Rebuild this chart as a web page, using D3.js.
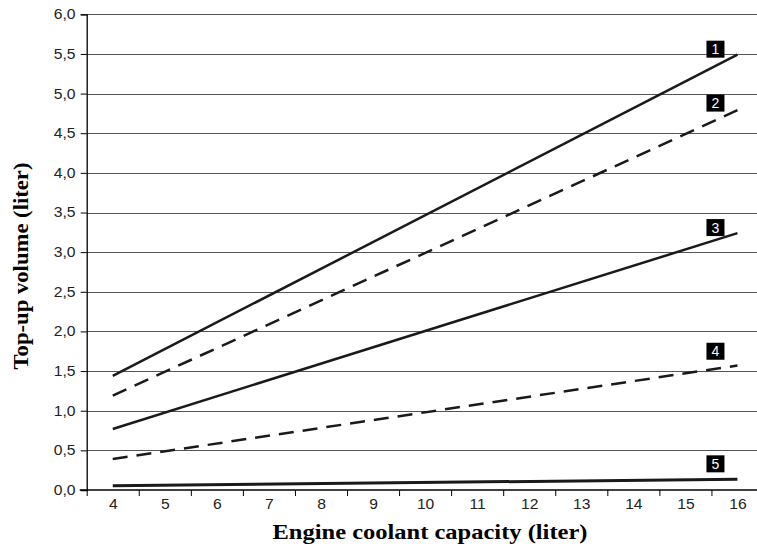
<!DOCTYPE html>
<html>
<head>
<meta charset="utf-8">
<script src="https://cdn.jsdelivr.net/npm/d3@7"></script>
<style>
  html, body { margin: 0; padding: 0; background: #fff; }
  svg { display: block; }
</style>
</head>
<body>
<div id="chart"></div>
<script>
// Engine coolant capacity vs top-up volume
const capacities = [4, 5, 6, 7, 8, 9, 10, 11, 12, 13, 14, 15, 16];
const yTicks = [0, 0.5, 1, 1.5, 2, 2.5, 3, 3.5, 4, 4.5, 5, 5.5, 6];
const seriesIds = ['1', '2', '3', '4', '5'];
// each line is straight: value at 4 l and at 16 l
const startValues = [1.44, 1.19, 0.77, 0.39, 0.055];
const endValues = [5.49, 4.79, 3.24, 1.57, 0.135];
// where the number badge sits (liters)
const badgeValues = [5.56, 4.88, 3.31, 1.75, 0.33];
const dashedSeries = ['2', '4'];

const width = 757, height = 553;
const svg = d3.select('#chart').append('svg')
  .attr('width', width).attr('height', height);

const x = d3.scaleLinear().domain([3.5, 16.5]).range([86.7, 763.5]);
const y = d3.scaleLinear().domain([0, 6]).range([490, 14.3]);

// grid
svg.append('g').selectAll('line').data(yTicks.slice(1)).enter().append('line')
  .attr('x1', x(3.5)).attr('x2', width)
  .attr('y1', d => Math.round(y(d)) + 0.5).attr('y2', d => Math.round(y(d)) + 0.5)
  .attr('stroke', '#555').attr('stroke-width', 1);

const fmt = d => d3.format('.1f')(d).replace('.', ',');

// y axis
const gy = svg.append('g').attr('transform', `translate(${x(3.5)},0)`)
  .call(d3.axisLeft(y).tickValues(yTicks).tickFormat(fmt).tickSize(6).tickPadding(4));
gy.select('.domain').attr('stroke', '#000').attr('stroke-width', 1.3);
gy.selectAll('.tick line').attr('stroke', '#000');
gy.selectAll('.tick text').attr('font-family', '"Liberation Sans", Arial, sans-serif')
  .attr('font-size', 14).attr('fill', '#222')
  .attr('transform', 'scale(1.12,1)');

// x axis: tick marks at band edges, labels in the middle
const edges = capacities.map(c => c - 0.5);
const gxTicks = svg.append('g').attr('transform', `translate(0,${y(0)})`)
  .call(d3.axisBottom(x).tickValues(edges).tickFormat('').tickSize(6).tickSizeOuter(0));
gxTicks.select('.domain').attr('d', `M${x(3.5) - 7},0H${width + 10}`)
  .attr('stroke', '#000').attr('stroke-width', 1.3);
gxTicks.selectAll('.tick line').attr('stroke', '#000');

const gxLabels = svg.append('g').attr('transform', `translate(0,${y(0)})`)
  .call(d3.axisBottom(x).tickValues(capacities).tickFormat(d3.format('d')).tickSize(0).tickPadding(9));
gxLabels.select('.domain').remove();
gxLabels.selectAll('.tick text').attr('font-family', '"Liberation Sans", Arial, sans-serif')
  .attr('font-size', 14).attr('fill', '#222')
  .attr('transform', 'scale(1.12,1)');

// series lines
const rows = seriesIds.map((id, i) => ({
  id,
  pts: [[capacities[0], startValues[i]], [capacities[capacities.length - 1], endValues[i]]],
  badge: badgeValues[i]
}));
const line = d3.line().x(d => x(d[0])).y(d => y(d[1]));

svg.append('g').selectAll('path').data(rows).enter().append('path')
  .attr('d', d => line(d.pts))
  .attr('fill', 'none')
  .attr('stroke', '#1a1a1a')
  .attr('stroke-width', d => d.id === '5' ? 3 : 2.5)
  .attr('stroke-dasharray', d => dashedSeries.includes(d.id) ? '15,9' : null);

// number badges
const badge = svg.append('g').selectAll('g').data(rows).enter().append('g')
  .attr('transform', d => `translate(${x(16) - 22},${y(d.badge)})`);
badge.append('rect').attr('x', -9).attr('y', -8.5).attr('width', 18).attr('height', 17).attr('fill', '#000');
badge.append('text').attr('text-anchor', 'middle').attr('dy', '0.36em')
  .attr('font-family', '"Liberation Sans", Arial, sans-serif').attr('font-size', 14)
  .attr('fill', '#fff').text(d => d.id);

// axis titles
svg.append('text')
  .attr('x', 430).attr('y', 539).attr('text-anchor', 'middle')
  .attr('font-family', '"Liberation Serif", "Times New Roman", serif')
  .attr('font-weight', 'bold').attr('font-size', 20)
  .attr('textLength', 315).attr('lengthAdjust', 'spacingAndGlyphs')
  .text('Engine coolant capacity (liter)');

svg.append('text')
  .attr('transform', 'translate(28,266) rotate(-90)').attr('text-anchor', 'middle')
  .attr('font-family', '"Liberation Serif", "Times New Roman", serif')
  .attr('font-weight', 'bold').attr('font-size', 20)
  .attr('textLength', 207).attr('lengthAdjust', 'spacingAndGlyphs')
  .text('Top-up volume (liter)');
</script>
</body>
</html>
